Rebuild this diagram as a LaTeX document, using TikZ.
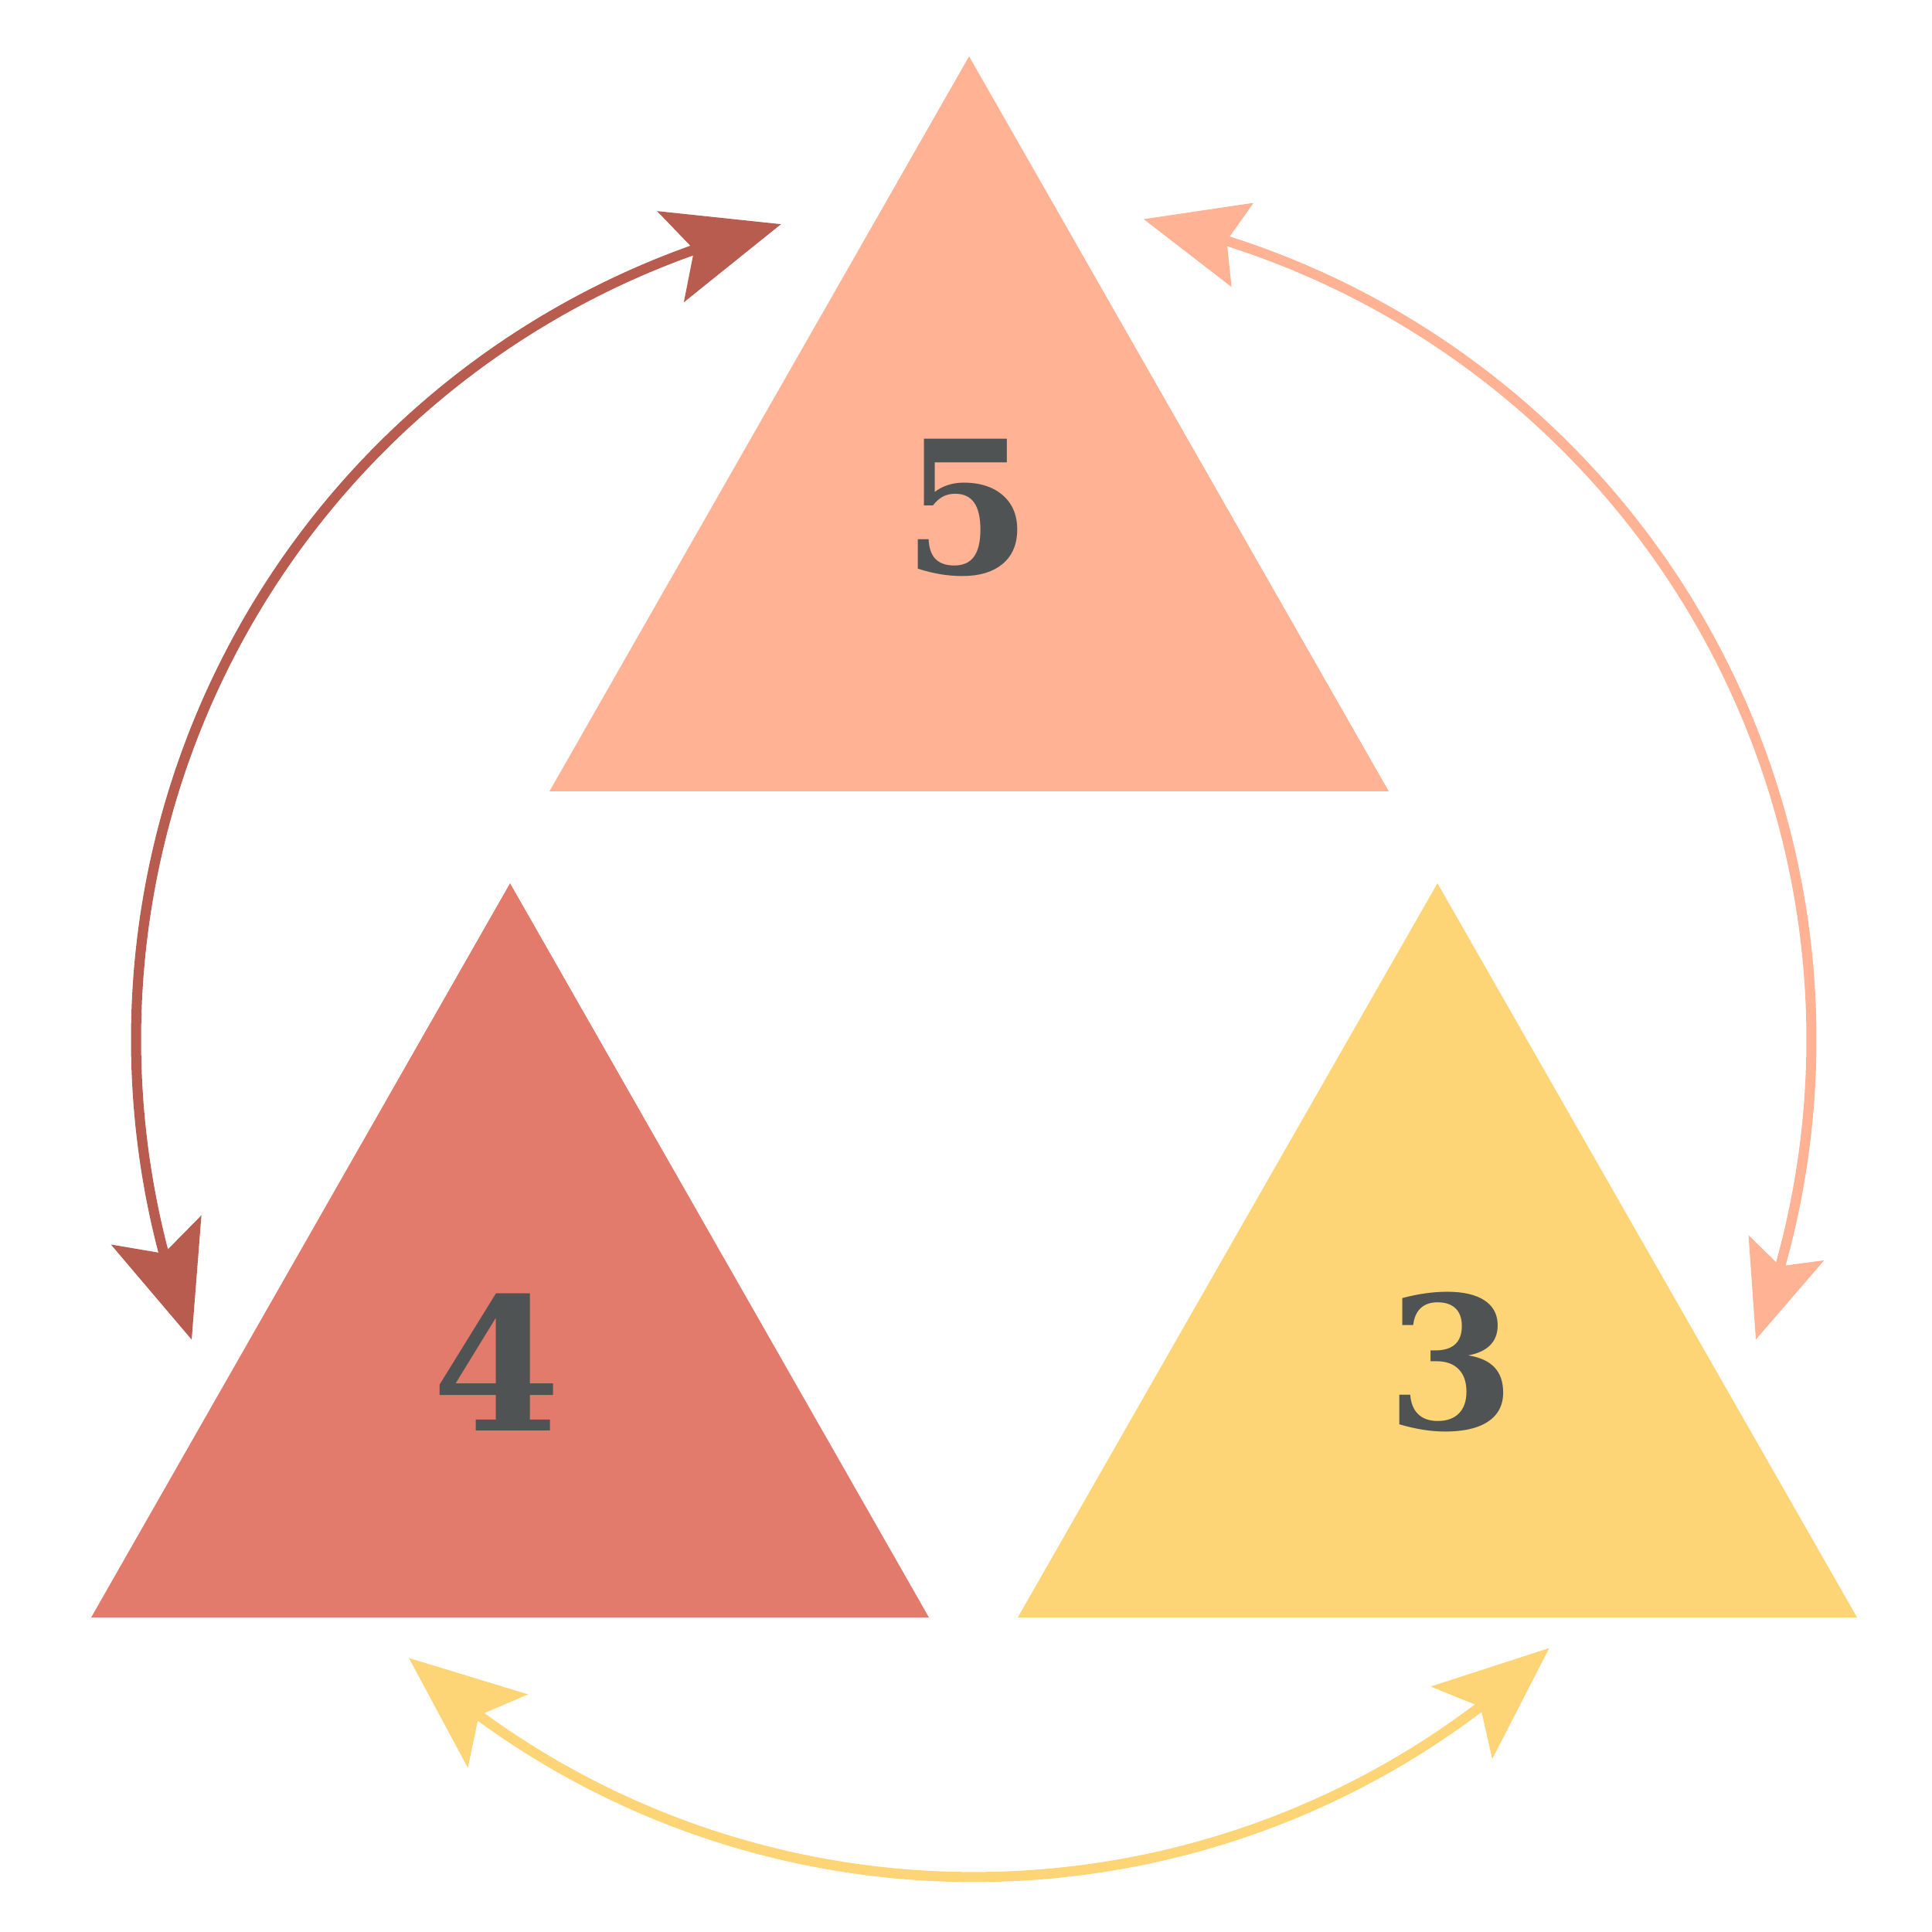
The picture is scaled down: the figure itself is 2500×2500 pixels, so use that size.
\documentclass[tikz,border=0pt]{standalone}
\usepackage{fontspec}
\usepackage{tikz}
\usetikzlibrary{arrows.meta,bending}
\newfontfamily\digitfont{DejaVu Serif}
\definecolor{Salmon}{HTML}{FFB294}
\definecolor{Coral}{HTML}{E37B6C}
\definecolor{Sun}{HTML}{FED576}
\definecolor{Brick}{HTML}{B85C50}
\definecolor{Ink}{HTML}{505353}

\begin{document}
\begin{tikzpicture}[x=0.01cm,y=0.01cm,
    >={Stealth[length=14.8mm,width=12.1mm,inset=3.1mm,flex]},
    cyc/.style={<->,line width=1.3mm},
    digit/.style={text=Ink,font=\digitfont\bfseries\fontsize{68}{70}\selectfont,inner sep=0pt}]
    \useasboundingbox (0,0) rectangle (2500,2500);
    \coordinate (c) at (1260,1155);
    \fill[Salmon] (711,1476) -- (1254,2427) -- (1797,1476) -- cycle;
    \fill[Coral] (118,407) -- (660,1357) -- (1202,407) -- cycle;
    \fill[Sun] (1317,407) -- (1860,1357) -- (2403,407) -- cycle;
    \node[digit] (five) at (1252,1843) {5};
    \node[digit] (four) at (643,737) {4};
    \node[digit] (three) at (1878,738) {3};
    \draw[cyc,Brick] ([shift={(103.3:1084)}]c) arc[start angle=103.3,end angle=201,radius=1084];
    % smaller tips on this one
    \draw[line width=1.3mm,Salmon,{Stealth[length=13.1mm,width=11mm,inset=2mm,flex]}-{Stealth[length=12.4mm,width=10.1mm,inset=2.4mm,flex]}]
      ([shift={(78.3:1084)}]c) arc[start angle=78.3,end angle=-21,radius=1084];
    \draw[cyc,Sun] ([shift={(227.6:1084)}]c) arc[start angle=227.6,end angle=313.4,radius=1084];
  \end{tikzpicture}
\end{document}
